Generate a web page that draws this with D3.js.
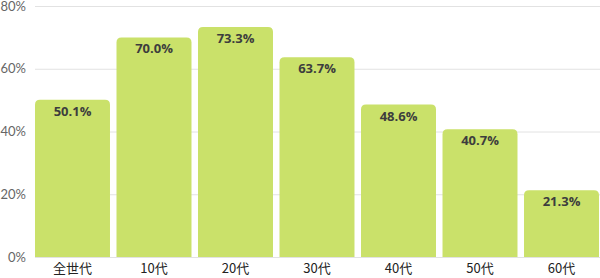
<!DOCTYPE html>
<html>
<head>
<meta charset="utf-8">
<script src="https://cdn.jsdelivr.net/npm/d3@7"></script>
<style>
body { margin: 0; background: #fff; }
svg { display: block; }
</style>
</head>
<body>
<script>
var w = 600;
var h = 278;

var categories = ["全世代", "10代", "20代", "30代", "40代", "50代", "60代"];
var values = [50.1, 70.0, 73.3, 63.7, 48.6, 40.7, 21.3];
var yTicks = [0, 20, 40, 60, 80];

var svg = d3.select("body")
    .append("svg")
    .attr("width", w)
    .attr("height", h);

var x = d3.scaleBand()
    .domain(categories)
    .range([35, 599])
    .paddingInner(0.08)
    .paddingOuter(0);

var y = d3.scaleLinear()
    .domain([0, 80])
    .range([257, 6]);

// gridlines
svg.selectAll("line.grid")
    .data(yTicks)
    .enter()
    .append("line")
    .attr("class", "grid")
    .attr("x1", 35)
    .attr("x2", w)
    .attr("y1", function(d){ return y(d) + 0.5; })
    .attr("y2", function(d){ return y(d) + 0.5; })
    .attr("stroke", "#e2e2e2")
    .attr("stroke-width", 1);

// y labels
svg.selectAll("text.ytick")
    .data(yTicks)
    .enter()
    .append("text")
    .attr("class", "ytick")
    .attr("x", 26)
    .attr("y", function(d){ return y(d); })
    .attr("dy", "0.35em")
    .attr("text-anchor", "end")
    .attr("font-family", "Lato, 'Open Sans', sans-serif")
    .attr("font-size", 13)
    .attr("fill", "#666")
    .text(function(d){ return d + "%"; });

// bars with rounded top corners
var r = 5;
svg.selectAll("path.bar")
    .data(values)
    .enter()
    .append("path")
    .attr("class", "bar")
    .attr("fill", "#cae16a")
    .attr("d", function(d, i){
        var x0 = x(categories[i]);
        var bw = x.bandwidth();
        var top = y(d);
        var bot = y(0);
        return "M" + x0 + "," + bot +
            "V" + (top + r) +
            "Q" + x0 + "," + top + " " + (x0 + r) + "," + top +
            "H" + (x0 + bw - r) +
            "Q" + (x0 + bw) + "," + top + " " + (x0 + bw) + "," + (top + r) +
            "V" + bot + "Z";
    });

// value labels
svg.selectAll("text.val")
    .data(values)
    .enter()
    .append("text")
    .attr("class", "val")
    .attr("x", function(d, i){ return x(categories[i]) + x.bandwidth() / 2; })
    .attr("y", function(d){ return y(d) + 16; })
    .attr("text-anchor", "middle")
    .attr("font-family", "'Open Sans', Lato, sans-serif")
    .attr("font-weight", "bold")
    .attr("font-size", 13)
    .attr("fill", "#3d3d3d")
    .text(function(d){ return d.toFixed(1) + "%"; });

// x labels
svg.selectAll("text.cat")
    .data(categories)
    .enter()
    .append("text")
    .attr("class", "cat")
    .attr("x", function(d){ return x(d) + x.bandwidth() / 2; })
    .attr("y", 273)
    .attr("text-anchor", "middle")
    .attr("font-family", "'Noto Sans CJK JP', sans-serif")
    .attr("font-size", 13)
    .attr("fill", "#222")
    .text(function(d){ return d; });
</script>
</body>
</html>
